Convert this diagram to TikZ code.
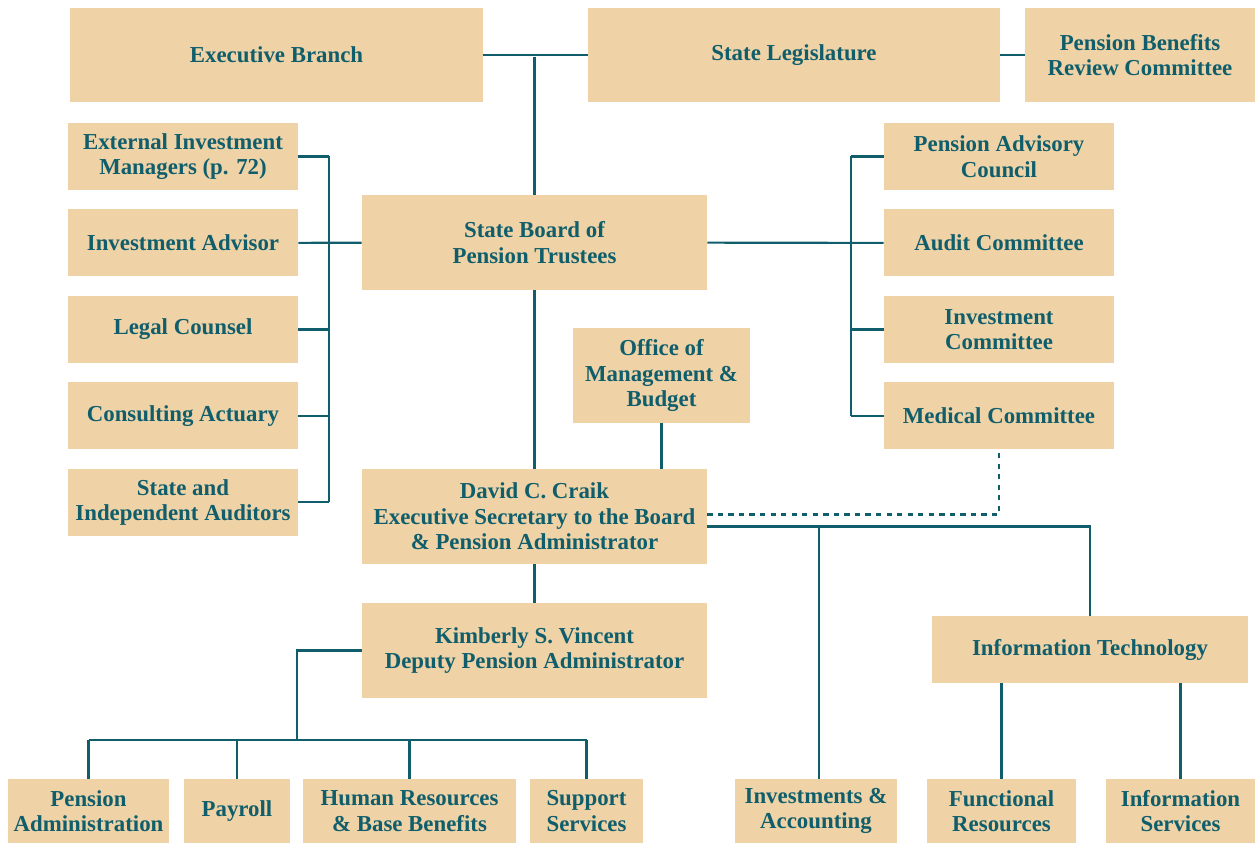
\documentclass[tikz,border=0pt]{standalone}
\usepackage{fontspec}
\setmainfont{Liberation Serif}
\definecolor{boxtan}{RGB}{239,211,166}
\definecolor{inkteal}{RGB}{16,94,108}

\tikzstyle{link} = [inkteal, line width=1.2pt]
\tikzstyle{unit} = [
        rectangle,
        minimum width=4.6cm,
        minimum height=1.34cm,
        inner sep=2pt,
        align=center,
        fill=boxtan,
        text=inkteal,
        font=\fontsize{13}{14.5}\selectfont\bfseries
    ]
\tikzstyle{bigunit} = [
        unit,
        minimum width=6.9cm,
        minimum height=1.9cm
    ]
\tikzstyle{leaf} = [
        unit,
        minimum height=1.28cm
    ]

\begin{document}
\begin{tikzpicture}[x=0.02cm, y=-0.02cm, node distance=1.73cm]
        \useasboundingbox (0,0) rectangle (1257,844);

        \node [unit, minimum width=8.26cm, minimum height=1.88cm] (exec) at (276.5,55) {Executive Branch};
        \node [unit, minimum width=8.24cm, minimum height=1.88cm] (leg) at (794,55) {State Legislature};
        \node [unit, minimum height=1.88cm] (pbrc) at (1140,55) {Pension Benefits\\Review Committee};

        \node [unit] (ext) at (183,156.5) {External Investment\\Managers (p. 72)};
        \node [unit, below of=ext] (adv) {Investment Advisor};
        \node [unit, below of=adv] (legal) {Legal Counsel};
        \node [unit, below of=legal] (actuary) {Consulting Actuary};
        \node [unit, below of=actuary] (auditors) {State and\\Independent Auditors};

        \node [bigunit] (board) at (534.5,242.5) {State Board of\\Pension Trustees};

        \node [unit] (pac) at (999,156.5) {Pension Advisory\\Council};
        \node [unit, below of=pac] (audit) {Audit Committee};
        \node [unit, below of=audit] (invc) {Investment\\Committee};
        \node [unit, below of=invc] (medical) {Medical Committee};

        \node [bigunit, minimum width=3.54cm] (omb) at (661.5,375.5) {Office of\\Management \&\\Budget};
        \node [bigunit] (craik) at (534.5,516.5) {David C. Craik\\Executive Secretary to the Board\\\& Pension Administrator};
        \node [bigunit] (vincent) at (534.5,650.5) {Kimberly S. Vincent\\Deputy Pension Administrator};
        \node [unit, minimum width=6.32cm] (it) at (1090,649.5) {Information Technology};

        \node [leaf, minimum width=3.22cm] (penadm) at (88.5,811) {Pension\\Administration};
        \node [leaf, minimum width=2.12cm] (payroll) at (237,811) {Payroll};
        \node [leaf, minimum width=4.26cm] (hr) at (409.5,811) {Human Resources\\\& Base Benefits};
        \node [leaf, minimum width=2.26cm] (support) at (586.5,811) {Support\\Services};
        \node [leaf, minimum width=3.24cm] (invacc) at (816,811) {Investments \&\\Accounting};
        \node [leaf, minimum width=2.98cm] (funcres) at (1001.5,811) {Functional\\Resources};
        \node [leaf, minimum width=2.98cm] (infserv) at (1180.5,811) {Information\\Services};

        \coordinate (top) at (534.5,57);
        \coordinate (lbus) at (329,0);
        \coordinate (rbus) at (851,0);
        \coordinate (hub) at (297,740);
        \coordinate (split) at (819,526);

        \draw [link] (exec) -- (leg);
        \draw [link] (leg) -- (pbrc);
        \draw [link] (top) -- (board);

        \draw [link] (adv) -- (board);
        \draw [link] (ext.east -| lbus) -- (auditors.east -| lbus);
        \draw [link] (ext.east) -- (ext.east -| lbus);
        \draw [link] (legal.east) -- (legal.east -| lbus);
        \draw [link] (actuary.east) -- (actuary.east -| lbus);
        \draw [link] (auditors.east) -- (auditors.east -| lbus);

        \draw [link] (board) -- (audit);
        \draw [link] (pac.west -| rbus) -- (medical.west -| rbus);
        \draw [link] (pac.west) -- (pac.west -| rbus);
        \draw [link] (invc.west) -- (invc.west -| rbus);
        \draw [link] (medical.west) -- (medical.west -| rbus);

        \draw [link] (board) -- (craik);
        \draw [link] (omb) -- (omb |- craik.north);
        \draw [link, dashed] ([yshift=0.04cm]craik.east) -| (medical);
        \draw [link] ([yshift=-0.2cm]craik.east) -| (it);
        \draw [link] (split) -- (split |- invacc.north);
        \draw [link] (craik) -- (vincent);

        \draw [link] (vincent) -| (hub);
        \draw [link] (penadm |- hub) -- (support |- hub);
        \draw [link] (penadm) -- (penadm |- hub);
        \draw [link] (payroll) -- (payroll |- hub);
        \draw [link] (hr) -- (hr |- hub);
        \draw [link] (support) -- (support |- hub);

        \draw [link] (funcres |- it.south) -- (funcres);
        \draw [link] (infserv |- it.south) -- (infserv);

    \end{tikzpicture}
\end{document}
